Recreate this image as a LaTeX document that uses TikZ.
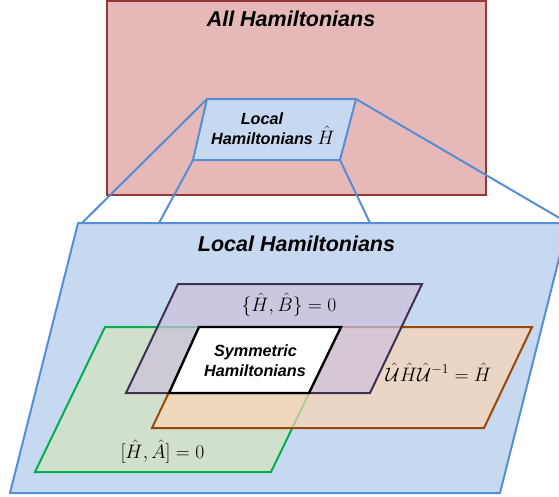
\RequirePackage{fix-cm}
\documentclass[tikz,border=0pt]{standalone}
\usepackage[no-math]{fontspec}
\setmainfont{Liberation Sans}
\definecolor{redfill}{HTML}{E6B9B8}
\definecolor{reddraw}{HTML}{953735}
\definecolor{bluefill}{HTML}{C6D9F1}
\definecolor{bluedraw}{HTML}{558ED5}
\definecolor{greenfill}{HTML}{D7E4BD}
\definecolor{greendraw}{HTML}{00B050}
\definecolor{orangefill}{HTML}{FCD5B5}
\definecolor{orangedraw}{HTML}{984807}
\definecolor{purplefill}{HTML}{CCC1DA}
\definecolor{purpledraw}{HTML}{3F3151}
\tikzset{
  redbox/.style={fill=redfill, draw=reddraw, line width=2pt},
  bluebox/.style={fill=bluefill, draw=bluedraw, line width=2pt, line join=round},
  zoomline/.style={draw=bluedraw, line width=2pt},
  greenbox/.style={fill=greenfill, fill opacity=0.7, draw=greendraw, line width=2pt},
  orangebox/.style={fill=orangefill, fill opacity=0.7, draw=orangedraw, line width=2pt},
  purplebox/.style={fill=purplefill, fill opacity=0.7, draw=purpledraw, line width=2pt},
  whitebox/.style={fill=white, draw=black, line width=2.4pt},
  bigtitle/.style={font=\fontsize{21.5}{24}\selectfont\bfseries\itshape, anchor=base, inner sep=0pt},
  smalltitle/.style={font=\fontsize{16.2}{19}\selectfont\bfseries\itshape, anchor=base, inner sep=0pt},
  mathlabel/.style={font=\fontsize{19.5}{22}\selectfont, anchor=base, inner sep=0pt}
}
\begin{document}
\begin{tikzpicture}[x=1pt,y=-1pt]
\useasboundingbox (0,0) rectangle (559,496);
\clip (0,0) rectangle (559,496);
% corners
\coordinate (sTL) at (207,99);
\coordinate (sTR) at (356,99);
\coordinate (sBR) at (340,160);
\coordinate (sBL) at (193,160);
\coordinate (bTL) at (78,223);
\coordinate (bTR) at (568,223);
\coordinate (bBR) at (500,493);
\coordinate (bBL) at (10,493);
\coordinate (e1) at (82,223);
\coordinate (e2) at (159,223);
\coordinate (e3) at (370,223);
% all hamiltonians
\draw[redbox] (107,1) rectangle (486,195);
\node[bigtitle] (allH) at (291,26.5) {All Hamiltonians};
% big local plane
\draw[bluebox] (bTL) -- (bTR) -- (bBR) -- (bBL) -- cycle;
% zoom connectors
\draw[zoomline] (sTL) -- (e1);
\draw[zoomline] (sBL) -- (e2);
\draw[zoomline] (sBR) -- (e3);
\draw[zoomline] (sTR) -- (bTR);
% small local plane
\draw[bluebox] (sTL) -- (sTR) -- (sBR) -- (sBL) -- cycle;
\node[smalltitle] (sl1) at (262,124) {Local};
\node[smalltitle] (sl2) at (273,144) {Hamiltonians {\fontsize{19.5}{22}\selectfont\(\hat{H}\)}};
\node[bigtitle] (bigL) at (296.5,251) {Local Hamiltonians};
% symmetry sets
\draw[greenbox] (105,327) -- (341,327) -- (271,472) -- (35,472) -- cycle;
\draw[orangebox] (200,327) -- (532,327) -- (484,428) -- (152,428) -- cycle;
\draw[purplebox] (178,284) -- (422,284) -- (370,393) -- (126,393) -- cycle;
\draw[whitebox] (199,327) -- (341,327) -- (309,393) -- (169,393) -- cycle;
\node[smalltitle] (sym1) at (255.5,356) {Symmetric};
\node[smalltitle] (sym2) at (255,376) {Hamiltonians};
\node[mathlabel] (labB) at (289,311) {\(\{\hat{H},\hat{B}\}=0\)};
\node[mathlabel] (labU) at (438.5,381) {\(\hat{\mathcal{U}}\hat{H}\hat{\mathcal{U}}^{-1}=\hat{H}\)};
\node[mathlabel] (labA) at (162.5,458) {\([\hat{H},\hat{A}]=0\)};
\end{tikzpicture}
\end{document}
